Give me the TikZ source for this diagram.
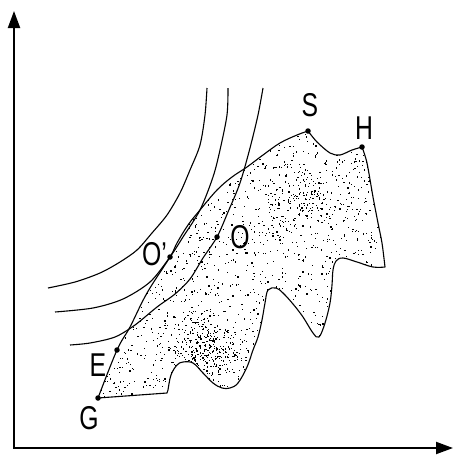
\documentclass[tikz,border=0pt]{standalone}
\usepackage{fontspec}
\setmainfont{Liberation Sans}
\usetikzlibrary{arrows.meta}
\newcommand{\narrowtxt}[1]{\scalebox{0.75}[1]{#1}}
\def\regionpath{plot[smooth,tension=0.6] coordinates {(98,398) (117,350) (130,327) (147,293) (170,257) (177,243) (188,225) (200,210) (217,190) (232,177) (247,167) (263,155) (280,143) (297,135) (308,131)}
 -- plot[smooth] coordinates {(308,131) (317,142) (330,153) (340,155) (352,150) (362,147)}
 -- plot[smooth] coordinates {(362,147) (367,163) (373,197) (378,223) (382,243) (385,267)}
 -- plot[smooth,tension=0.6] coordinates {(385,267) (373,267) (357,262) (343,258) (336,261) (333,270) (332,285) (330,303) (325,323) (319,337) (313,333) (303,317) (293,304) (283,293) (276,288) (268,290) (265,303) (262,320) (258,337) (253,350) (247,367) (238,383) (230,388) (222,388) (213,383) (203,373) (193,363) (183,362) (177,365) (171,375) (168,390)}
 -- (167,393) -- cycle}
\begin{document}
\begin{tikzpicture}[x=1pt,y=-1pt,
  curve/.style={line width=1.1pt, line join=round},
  axis/.style={line width=2pt, line join=miter, {Triangle[length=17pt,width=12pt]}-{Triangle[length=17pt,width=12pt]}},
  pt/.style={circle, fill=black, inner sep=0pt, minimum size=5.5pt},
  lbl/.style={inner sep=0pt, font=\fontsize{33}{33}\selectfont}]
\useasboundingbox (0,0) rectangle (454,458);
\fill[white] (0,0) rectangle (454,458);
% axes
\coordinate (ytop) at (14,11);
\coordinate (orig) at (14,448);
\coordinate (xend) at (453,448);
\draw[axis] (ytop) -- (orig) -- (xend);
% stippled region
\begin{scope}
  \clip \regionpath;
  \pgfmathsetseed{12}
  \foreach \i in {1,...,2100} {\fill ({90+300*rnd},{125+275*rnd}) rectangle ++(1.2,1.2);}
  \foreach \i in {1,...,300} {\fill ({205+45*(rnd-rnd)},{345+40*(rnd-rnd)}) rectangle ++(1.2,1.2);}
  \foreach \i in {1,...,150} {\fill ({300+40*(rnd-rnd)},{200+40*(rnd-rnd)}) rectangle ++(1.2,1.2);}
\end{scope}
\draw[curve] \regionpath;
% indifference curves
\draw[curve] plot[smooth] coordinates {(207,88) (205,115) (200,145) (190,170) (180,193) (167,215) (152,233) (137,250) (120,262) (100,273) (75,282) (48,288)};
\draw[curve] plot[smooth] coordinates {(228,88) (227,115) (220,150) (213,177) (200,210) (183,237) (170,257) (150,282) (123,299) (93,308) (55,312)};
\draw[curve] plot[smooth] coordinates {(263,88) (258,115) (250,148) (240,183) (228,212) (217,237) (203,258) (190,279) (175,294) (157,307) (135,325) (115,337) (90,343) (70,345)};
% points
\node[pt] (G) at (98,398) {};
\node[pt] (E) at (117,350) {};
\node[pt] (Op) at (170,257) {};
\node[pt] (O) at (217,237) {};
\node[pt] (S) at (308,131) {};
\node[pt] (H) at (362,147) {};
% labels
\node[lbl] (Slab) at (310,105) {\narrowtxt{S}};
\node[lbl] (Hlab) at (364,128) {\narrowtxt{H}};
\node[lbl, anchor=west] (Oplab) at (142,254) {\narrowtxt{O'}};
\node[lbl] (Olab) at (240,237) {\narrowtxt{O}};
\node[lbl] (Elab) at (98,365) {\narrowtxt{E}};
\node[lbl] (Glab) at (89,418) {\narrowtxt{G}};
\end{tikzpicture}
\end{document}
